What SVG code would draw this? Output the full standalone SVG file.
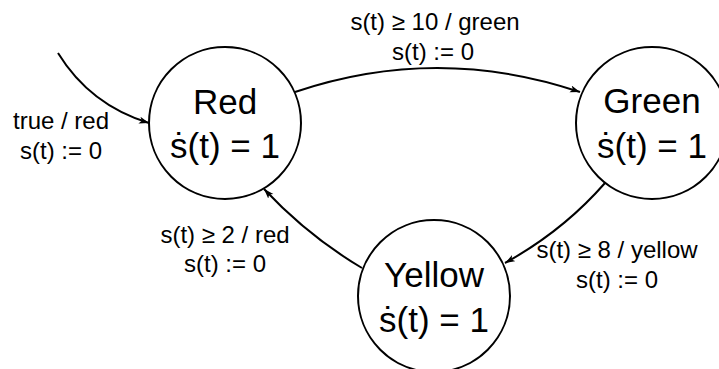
<svg xmlns="http://www.w3.org/2000/svg" width="719" height="369" viewBox="0 0 719 369">
<style>
  .state { fill: #ffffff; stroke: #000000; stroke-width: 2; }
  .big { font-family: "Liberation Sans", Arial, sans-serif; font-size: 35px; fill: #000000; text-anchor: middle; }
  .lbl { font-family: "Liberation Sans", Arial, sans-serif; font-size: 24px; fill: #000000; text-anchor: middle; }
  .edge { fill: none; stroke: #000000; stroke-width: 2; marker-end: url(#arrow); }
</style>
<defs>
  <marker id="arrow" markerUnits="userSpaceOnUse" markerWidth="11" markerHeight="8" refX="10" refY="3.5" orient="auto">
    <path d="M0,0 L10,3.5 L0,7 L2.5,3.5 z" fill="#000000"/>
  </marker>
</defs>
<rect width="719" height="369" fill="#ffffff"/>
<g id="edges">
  <path id="e-init" class="edge" d="M58,53 Q90,105 149,123"/>
  <path id="e-red-green" class="edge" d="M295,92 Q437,44 580,92"/>
  <path id="e-green-yellow" class="edge" d="M605,183 Q563,231 505,263"/>
  <path id="e-yellow-red" class="edge" d="M362,268 Q308,236 264,189"/>
</g>
<g id="labels">
  <text class="lbl" x="61" y="129">true / red</text>
  <text class="lbl" x="61" y="159">s(t) := 0</text>
  <text class="lbl" x="435" y="30">s(t) ≥ 10 / green</text>
  <text class="lbl" x="433" y="60">s(t) := 0</text>
  <text class="lbl" x="225" y="243">s(t) ≥ 2 / red</text>
  <text class="lbl" x="225" y="272">s(t) := 0</text>
  <text class="lbl" x="617" y="258">s(t) ≥ 8 / yellow</text>
  <text class="lbl" x="617" y="288">s(t) := 0</text>
</g>
<g id="node-red">
  <circle class="state" cx="225" cy="123" r="76"/>
  <text class="big" x="225" y="114">Red</text>
  <text class="big" x="225" y="158">ṡ(t) = 1</text>
</g>
<g id="node-green">
  <circle class="state" cx="652" cy="123" r="76"/>
  <text class="big" x="652" y="113">Green</text>
  <text class="big" x="652" y="158">ṡ(t) = 1</text>
</g>
<g id="node-yellow">
  <circle class="state" cx="434" cy="296" r="76"/>
  <text class="big" x="434" y="287">Yellow</text>
  <text class="big" x="434" y="332">ṡ(t) = 1</text>
</g>
</svg>
